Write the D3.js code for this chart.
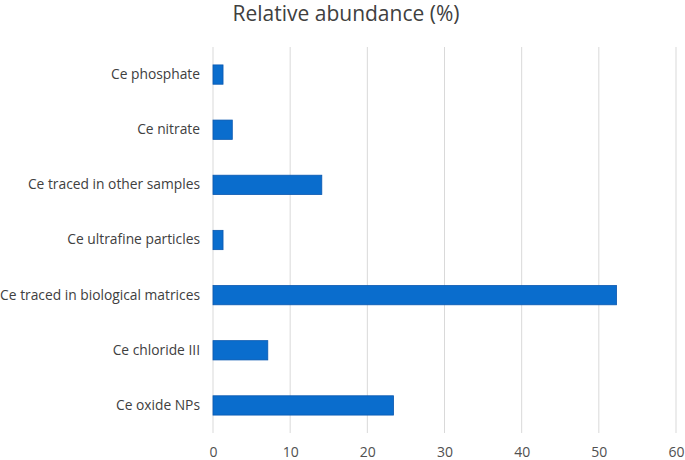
<!doctype html>
<html lang="en">
<head>
    <meta charset="UTF-8" />
    <title>Relative abundance</title>
    <script src="https://d3js.org/d3.v7.min.js"></script>
    <style>
        body, html {
            margin: 0;
            padding: 0;
            background: #ffffff;
        }
        svg {
            display: block;
            font-family: "Open Sans", sans-serif;
        }
        .grid line {
            stroke: #d9d9d9;
            stroke-width: 1px;
        }
        .bar {
            fill: #0a6dcd;
            stroke: #0a58b0;
            stroke-width: 0.8px;
        }
    </style>
</head>
<body>
    <svg id="chart"></svg>
    <script>
        const categories = [
            "Ce phosphate",
            "Ce nitrate",
            "Ce traced in other samples",
            "Ce ultrafine particles",
            "Ce traced in biological matrices",
            "Ce chloride III",
            "Ce oxide NPs"
        ];
        const values = [1.3, 2.5, 14.1, 1.3, 52.3, 7.1, 23.4];
        const xTicks = [0, 10, 20, 30, 40, 50, 60];
        const title = "Relative abundance (%)";

        const width = 685;
        const height = 460;
        const margin = { top: 47, right: 9, bottom: 27, left: 213 };

        const svg = d3.select("#chart")
            .attr("width", width)
            .attr("height", height);

        const x = d3.scaleLinear()
            .domain([0, 60])
            .range([margin.left, width - margin.right]);

        const y = d3.scaleBand()
            .domain(categories)
            .range([margin.top, height - margin.bottom])
            .paddingInner(0.65)
            .paddingOuter(0.325);

        // vertical gridlines
        svg.append("g")
            .attr("class", "grid")
            .selectAll("line")
            .data(xTicks)
            .join("line")
            .attr("x1", d => x(d))
            .attr("x2", d => x(d))
            .attr("y1", margin.top)
            .attr("y2", height - margin.bottom);

        // bars
        svg.append("g")
            .selectAll("rect")
            .data(values)
            .join("rect")
            .attr("class", "bar")
            .attr("x", x(0))
            .attr("y", (d, i) => y(categories[i]))
            .attr("width", d => x(d) - x(0))
            .attr("height", y.bandwidth());

        // x axis labels
        const xAxis = d3.axisBottom(x)
            .tickValues(xTicks)
            .tickSize(0)
            .tickPadding(14);

        svg.append("g")
            .attr("transform", `translate(0,${height - margin.bottom})`)
            .call(xAxis)
            .call(g => g.select(".domain").remove())
            .call(g => g.selectAll("text")
                .attr("fill", "#505050")
                .attr("font-size", 14)
                .attr("font-family", "\"Open Sans\", sans-serif"));

        // y axis labels
        const yAxis = d3.axisLeft(y)
            .tickSize(0)
            .tickPadding(13);

        svg.append("g")
            .attr("transform", `translate(${margin.left},0)`)
            .call(yAxis)
            .call(g => g.select(".domain").remove())
            .call(g => g.selectAll("text")
                .attr("fill", "#404040")
                .attr("font-size", 13.8)
                .attr("font-family", "\"Open Sans\", sans-serif"));

        // title
        svg.append("text")
            .attr("x", 346)
            .attr("y", 21)
            .attr("text-anchor", "middle")
            .attr("fill", "#404040")
            .attr("font-size", 21)
            .text(title);
    </script>
</body>
</html>
